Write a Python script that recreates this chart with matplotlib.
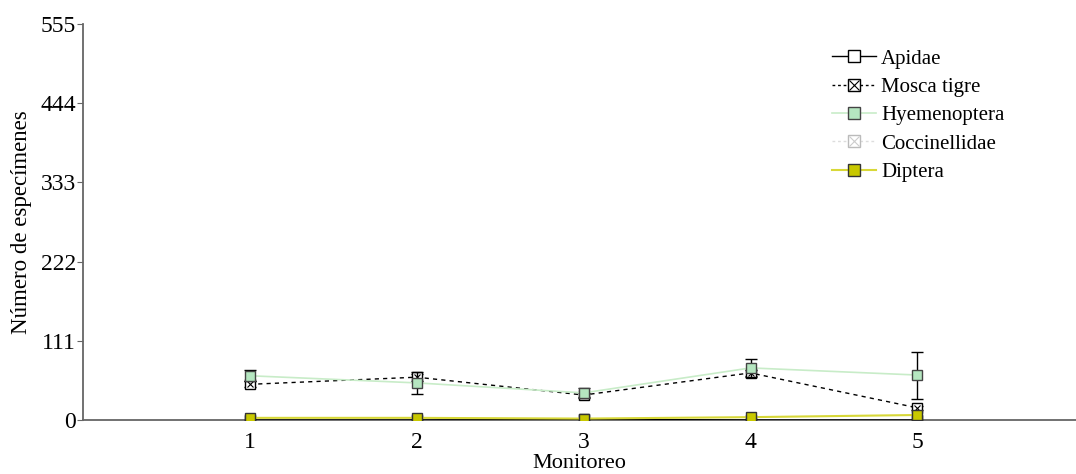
import numpy as np
import matplotlib.pyplot as plt
from matplotlib.lines import Line2D

plt.rcParams['font.family'] = ['Liberation Serif', 'DejaVu Serif']

monitoreo = [1, 2, 3, 4, 5]
apidae = [0, 0, 1, 0, 0]
mosca_tigre = [50, 60, 35, 66, 17]
mosca_err = [4, 5, 3, 4, 3]
hyemenoptera = [62, 52, 38, 73, 63]
hyem_err = [8, 15, 7, 13, 33]
coccinellidae = [0, 0, 0, 0, 0]
diptera = [3, 3, 2, 4, 7]
yticks = [0, 111, 222, 333, 444, 555]

fig = plt.figure(figsize=(10.76, 4.74), dpi=100)
ax = fig.add_axes([83/1076, 54/474, 1 - 83/1076, 396/474])

ms = 7
green_line = '#c8ecc8'
green_face = '#b5e6c0'
yel_line = '#d8d838'
yel_face = '#c8c800'

ax.plot(monitoreo, apidae, color='black', lw=1, marker='s', ms=ms,
        mfc='white', mec='black', zorder=3)
ax.errorbar(monitoreo, mosca_tigre, yerr=mosca_err, color='black', lw=1, ls=(0, (3, 3)),
            marker='s', ms=ms, mfc='white', mec='black', ecolor='black',
            elinewidth=1, capsize=4, zorder=4)
ax.plot(monitoreo, mosca_tigre, ls='none', marker='x', ms=5, mec='black', mew=0.8, zorder=5)
ax.errorbar(monitoreo, hyemenoptera, yerr=hyem_err, color=green_line, lw=1.2,
            marker='s', ms=ms, mfc=green_face, mec='#444444', ecolor='black',
            elinewidth=1, capsize=4, zorder=6)
ax.plot(monitoreo, coccinellidae, color='#dddddd', lw=1, ls=(0, (3, 3)),
        marker='s', ms=ms, mfc='white', mec='#bbbbbb', zorder=2)
ax.plot(monitoreo, diptera, color=yel_line, lw=1.5, marker='s', ms=ms,
        mfc=yel_face, mec='#333333', zorder=7)

# legend handles
h_api = Line2D([], [], color='black', lw=1, marker='s', ms=9, mfc='white', mec='black')
h_mos = (Line2D([], [], color='black', lw=1, ls=(0, (2, 2)), marker='s', ms=9, mfc='white', mec='black'),
         Line2D([], [], ls='none', marker='x', ms=7, mec='black', mew=0.8))
h_hye = Line2D([], [], color=green_line, lw=1.2, marker='s', ms=9, mfc=green_face, mec='#444444')
h_coc = (Line2D([], [], color='#dddddd', lw=1, ls=(0, (2, 2)), marker='s', ms=9, mfc='white', mec='#bbbbbb'),
         Line2D([], [], ls='none', marker='x', ms=7, mec='#cccccc', mew=0.8))
h_dip = Line2D([], [], color=yel_line, lw=1.5, marker='s', ms=9, mfc=yel_face, mec='#333333')
labels = ['Apidae', 'Mosca tigre', 'Hyemenoptera', 'Coccinellidae', 'Diptera']
ax.legend([h_api, h_mos, h_hye, h_coc, h_dip], labels, loc='upper left',
          bbox_to_anchor=(832/1076, (474 - 49)/474), bbox_transform=fig.transFigure,
          frameon=False, fontsize=15, handlelength=2.1, handletextpad=0.25,
          labelspacing=0.42, borderpad=0, borderaxespad=0)

ax.set_xlim(0, 5.95)
ax.set_ylim(0, 555)
ax.set_xticks(monitoreo)
ax.set_yticks(yticks)
ax.tick_params(axis='x', length=0, labelsize=17, pad=9)
ax.tick_params(axis='y', length=4, labelsize=17, pad=1, color='#666666')
for side in ['top', 'right']:
    ax.spines[side].set_visible(False)
for side in ['left', 'bottom']:
    ax.spines[side].set_color('#666666')
    ax.spines[side].set_linewidth(1.3)

ax.set_xlabel('Monitoreo', fontsize=16, labelpad=0)
ax.set_ylabel('Número de especímenes', fontsize=16.5, labelpad=6)

fig.savefig('out.png', dpi=100)
